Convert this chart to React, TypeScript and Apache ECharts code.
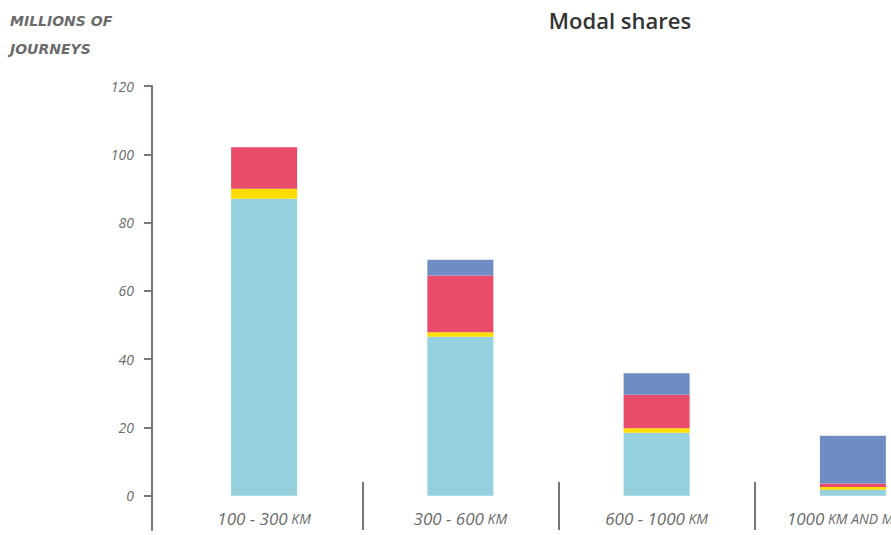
import React, { useEffect, useRef } from "react";
import * as echarts from "echarts";

const categories = ["100 - 300 KM", "300 - 600 KM", "600 - 1000 KM", "1000 KM AND MORE"];
const carValues = [87, 46.6, 18.5, 1.8];
const busValues = [2.9, 1.3, 1.3, 0.8];
const railValues = [12.2, 16.6, 9.8, 1.0];
const airValues = [0, 4.6, 6.3, 14.0];
const yTicks = [0, 20, 40, 60, 80, 100, 120];

const GREY = "#6b6b6b";

function catLabel(v: string): string {
  const m = v.match(/^(.*?)(\s*KM.*)$/);
  if (!m) return `{n|${v}}`;
  return `{n|${m[1]}}{s|${m[2]}}`;
}

export default function App() {
  const ref = useRef<HTMLDivElement>(null);
  useEffect(() => {
    if (!ref.current) return;
    const chart = echarts.init(ref.current, undefined, { renderer: "svg" });
    const mk = (name: string, data: number[], color: string) => ({
      name,
      type: "bar",
      stack: "total",
      data,
      barWidth: 66,
      itemStyle: { color },
    });
    chart.setOption({
      animation: false,
      title: {
        text: "Modal shares",
        left: 615,
        textAlign: "center",
        top: 4,
        textStyle: {
          fontFamily: "Open Sans",
          fontWeight: 600,
          fontSize: 22,
          color: "#333",
        },
      },
      graphic: [
        {
          type: "text",
          left: 10,
          top: 7,
          style: {
            text: "MILLIONS OF\nJOURNEYS",
            fontFamily: "DejaVu Sans",
            fontStyle: "italic",
            fontWeight: "bold",
            fontSize: 14,
            lineHeight: 28,
            fill: GREY,
          },
        },
      ],
      grid: { left: 166, right: 0, top: 86, bottom: 5 },
      xAxis: {
        type: "category",
        data: categories,
        axisLine: { show: false, onZero: false },
        axisTick: {
          show: true,
          inside: true,
          length: 48,
          interval: (i: number) => i > 0,
          lineStyle: { color: "#777", width: 2 },
        },
        axisLabel: {
          inside: true,
          margin: 3,
          interval: 0,
          formatter: (v: string) => catLabel(v),
          rich: {
            n: {
              fontFamily: "Open Sans",
              fontStyle: "italic",
              fontSize: 17,
              color: GREY,
            },
            s: {
              fontFamily: "Open Sans",
              fontStyle: "italic",
              fontSize: 14,
              color: GREY,
            },
          },
        },
      },
      yAxis: {
        type: "value",
        min: -10,
        max: 120,
        offset: 14,
        splitLine: { show: false },
        axisLine: { show: true, lineStyle: { color: "#777", width: 2 } },
        axisTick: {
          show: true,
          length: 8,
          customValues: yTicks,
          lineStyle: { color: "#777", width: 2 },
        },
        axisLabel: {
          customValues: yTicks,
          margin: 18,
          fontFamily: "Open Sans",
          fontStyle: "italic",
          fontSize: 14,
          color: GREY,
        },
      },
      series: [
        mk("Car", carValues, "#94d1dc"),
        mk("Bus", busValues, "#ffdc00"),
        mk("Rail", railValues, "#e94b6a"),
        mk("Air", airValues, "#6f8cc3"),
      ],
    });
    return () => chart.dispose();
  }, []);
  return (
    <div style={{ position: "absolute", left: 0, top: 0, width: 891, height: 535, overflow: "hidden" }}>
      <div ref={ref} style={{ width: 951, height: 535 }} />
    </div>
  );
}
